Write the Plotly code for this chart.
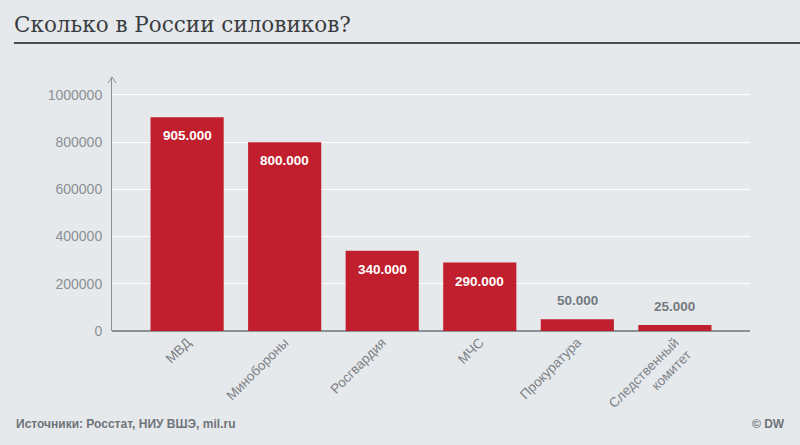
import plotly.graph_objects as go

categories = ["МВД", "Минобороны", "Росгвардия", "МЧС", "Прокуратура", "Следственный<br>комитет"]
values = [905000, 800000, 340000, 290000, 50000, 25000]
value_labels = ["905.000", "800.000", "340.000", "290.000", "50.000", "25.000"]
y_ticks = [0, 200000, 400000, 600000, 800000, 1000000]

W, H = 800, 445
L, R, T, B = 112, 50, 77, 114
pw, ph = W - L - R, H - T - B

def px_x(px):
    return (px - L) / pw

def px_y(py):
    return (H - B - py) / ph

fig = go.Figure(go.Bar(
    x=categories, y=values,
    marker=dict(color="#c11f2d", line=dict(width=0)),
    width=0.75, hoverinfo="x+y",
))

fig.update_layout(
    width=W, height=H,
    margin=dict(l=L, r=R, t=T, b=B),
    paper_bgcolor="#e6e9ec", plot_bgcolor="#e6e9ec",
    showlegend=False,
    title=dict(text="Сколько в России силовиков?", x=14 / W, xanchor="left",
               y=1 - 24 / H, yanchor="middle", yref="container",
               font=dict(family="DejaVu Serif", size=21.5, color="#3a3d40")),
    xaxis=dict(range=[-0.77, 5.77], showgrid=False, tickangle=-45,
               tickfont=dict(family="Liberation Sans", size=13.5, color="#7d8287"),
               showline=False, ticks="", zeroline=False),
    yaxis=dict(range=[0, 1076000], tickvals=y_ticks, ticktext=[str(v) for v in y_ticks],
               showgrid=True, gridcolor="#ffffff", gridwidth=1.2,
               showline=True, linecolor="#8c9196", linewidth=1,
               zeroline=True, zerolinecolor="#8c9196", zerolinewidth=1.5,
               tickfont=dict(family="Liberation Sans", size=14, color="#8a8f94"),
               ticks="", ticklabelstandoff=6),
    font=dict(family="Liberation Sans"),
)

# value labels: inside (white) for tall bars, above (grey) for short ones
for c, v, t in zip(categories, values, value_labels):
    inside = v > 150000
    fig.add_annotation(
        x=c, y=v, xref="x", yref="y", text=f"<b>{t}</b>", showarrow=False,
        yanchor="top" if inside else "bottom", yshift=-9 if inside else 9,
        font=dict(family="Liberation Sans", size=13.5,
                  color="#ffffff" if inside else "#737980"),
    )

# title underline
fig.add_shape(type="line", xref="paper", yref="paper",
              x0=px_x(14), x1=px_x(800), y0=px_y(43), y1=px_y(43),
              line=dict(color="#4a4d50", width=2))
# axis arrow head
fig.add_shape(type="path", xref="paper", yref="paper",
              xsizemode="pixel", ysizemode="pixel", xanchor=0, yanchor=1,
              path="M -4,-6 L 0,0 L 4,-6",
              line=dict(color="#8c9196", width=1))

fig.add_annotation(text="<b>Источники: Росстат, НИУ ВШЭ, mil.ru</b>", xref="paper", yref="paper",
                   x=px_x(14), y=px_y(424), xanchor="left", yanchor="middle", showarrow=False,
                   font=dict(family="Liberation Sans", size=12, color="#6f747a"))
fig.add_annotation(text="<b>© DW</b>", xref="paper", yref="paper",
                   x=px_x(787), y=px_y(424), xanchor="right", yanchor="middle", showarrow=False,
                   font=dict(family="Liberation Sans", size=12, color="#6f747a"))

fig.write_html("out.html", config={"displayModeBar": False},
               post_script="document.body.style.margin='0';document.body.style.padding='0';")
